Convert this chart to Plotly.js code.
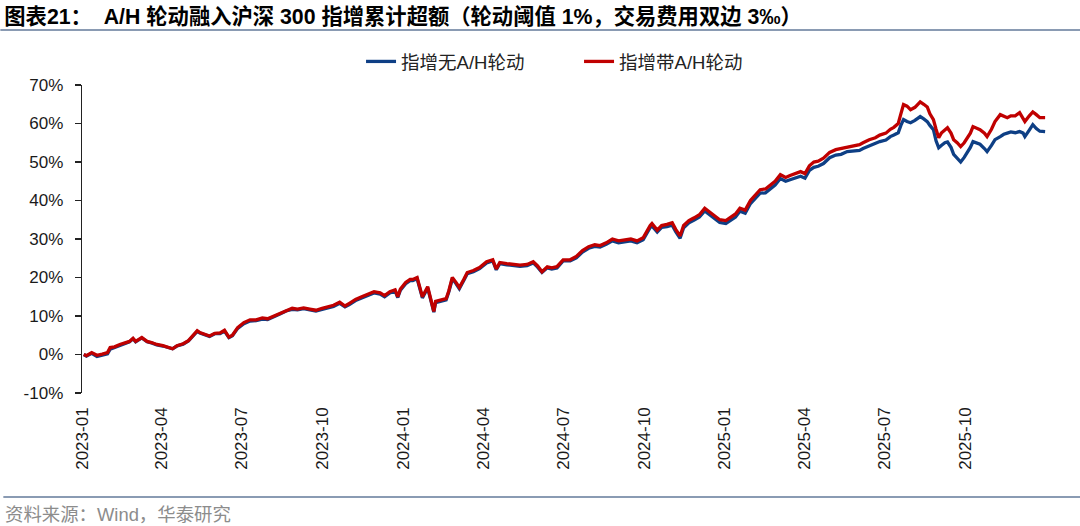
<!DOCTYPE html>
<html>
<head>
<meta charset="utf-8">
<script src="https://cdn.plot.ly/plotly-3.0.1.min.js"></script>
<style>
html,body{margin:0;padding:0;background:#fff;}
#chart{width:1080px;height:526px;}
</style>
</head>
<body>
<div id="chart"></div>
<script>
const dates = [
"2023-01-03","2023-01-06","2023-01-12","2023-01-18","2023-01-24","2023-01-30","2023-02-02","2023-02-07","2023-02-13","2023-02-19",
"2023-02-24","2023-02-28","2023-03-03","2023-03-10","2023-03-16","2023-03-21","2023-03-27","2023-04-03","2023-04-11","2023-04-14",
"2023-04-19","2023-04-26","2023-05-02","2023-05-06","2023-05-12","2023-05-15","2023-05-21","2023-05-26","2023-06-01","2023-06-07",
"2023-06-12","2023-06-17","2023-06-21","2023-06-27","2023-07-04","2023-07-11","2023-07-18","2023-07-25","2023-07-31","2023-08-07",
"2023-08-14","2023-08-21","2023-08-28","2023-09-03","2023-09-10","2023-09-17","2023-09-24","2023-10-01","2023-10-07","2023-10-14",
"2023-10-21","2023-10-27","2023-11-01","2023-11-08","2023-11-15","2023-11-22","2023-11-29","2023-12-06","2023-12-11","2023-12-17",
"2023-12-23","2023-12-26","2023-12-29","2024-01-04","2024-01-09","2024-01-12","2024-01-17","2024-01-20","2024-01-23","2024-01-29",
"2024-02-02","2024-02-05","2024-02-07","2024-02-13","2024-02-19","2024-02-22","2024-02-26","2024-03-01","2024-03-05","2024-03-10",
"2024-03-14","2024-03-21","2024-03-28","2024-04-05","2024-04-12","2024-04-16","2024-04-20","2024-04-28","2024-05-05","2024-05-13",
"2024-05-21","2024-05-28","2024-06-02","2024-06-07","2024-06-13","2024-06-18","2024-06-24","2024-07-01","2024-07-09","2024-07-16",
"2024-07-23","2024-07-30","2024-08-06","2024-08-12","2024-08-19","2024-08-26","2024-09-02","2024-09-09","2024-09-16","2024-09-23",
"2024-09-30","2024-10-08","2024-10-10","2024-10-16","2024-10-21","2024-10-27","2024-11-02","2024-11-06","2024-11-11","2024-11-15",
"2024-11-21","2024-11-27","2024-12-03","2024-12-09","2024-12-15","2024-12-20","2024-12-26","2025-01-02","2025-01-07","2025-01-13",
"2025-01-18","2025-01-24","2025-01-30","2025-02-05","2025-02-10","2025-02-16","2025-02-22","2025-02-27","2025-03-05","2025-03-11",
"2025-03-16","2025-03-22","2025-03-28","2025-04-02","2025-04-07","2025-04-12","2025-04-17","2025-04-23","2025-04-30","2025-05-07",
"2025-05-13","2025-05-20","2025-05-27","2025-06-03","2025-06-07","2025-06-14","2025-06-21","2025-06-26","2025-07-03","2025-07-08",
"2025-07-12","2025-07-17","2025-07-20","2025-07-23","2025-07-27","2025-07-31","2025-08-05","2025-08-11","2025-08-15","2025-08-19",
"2025-08-22","2025-08-26","2025-08-29","2025-09-01","2025-09-04","2025-09-08","2025-09-11","2025-09-15","2025-09-18","2025-09-22",
"2025-09-26","2025-09-30","2025-10-04","2025-10-07","2025-10-10","2025-10-15","2025-10-18","2025-10-23","2025-10-26","2025-10-31",
"2025-11-04","2025-11-10","2025-11-14","2025-11-18","2025-11-22","2025-11-27","2025-12-02","2025-12-06","2025-12-08","2025-12-13",
"2025-12-17","2025-12-21","2025-12-25","2025-12-31"
];

// 指增带A/H轮动 (%)
const withRotation = [
0.0,-0.3,0.5,-0.2,0.1,0.5,1.8,2.0,2.6,3.1,
3.4,4.2,3.4,4.4,3.4,3.1,2.6,2.3,1.8,1.5,
2.3,2.8,3.6,4.7,6.2,5.7,5.3,4.8,5.5,5.6,
6.3,4.5,5.0,7.0,8.3,9.0,9.0,9.5,9.3,10.0,
10.8,11.5,12.0,11.8,12.1,11.8,11.5,12.0,12.3,12.8,
13.6,12.6,13.3,14.3,15.0,15.6,16.3,16.0,15.3,16.3,
16.8,15.0,17.0,18.7,19.5,19.5,20.0,17.5,15.0,17.6,
13.5,11.2,13.8,14.2,14.5,16.5,20.0,18.8,17.4,19.5,
21.3,21.8,22.6,24.1,24.6,22.2,23.9,23.6,23.4,23.2,
23.4,24.1,23.0,21.5,22.8,22.5,22.8,24.6,24.6,25.5,
27.0,28.0,28.5,28.3,29.0,30.0,29.5,29.8,30.0,29.5,
30.3,33.5,34.0,32.3,33.5,33.8,34.2,32.5,30.8,33.5,
34.8,35.5,36.3,38.0,37.0,36.0,35.0,34.8,35.5,36.5,
38.0,37.5,40.0,41.5,42.8,43.0,44.0,45.0,46.7,46.0,
46.5,47.0,47.5,47.0,49.0,50.0,50.2,51.0,52.5,53.2,
53.5,54.0,54.2,54.5,55.0,55.8,56.3,57.0,57.5,58.5,
59.0,60.0,62.5,64.9,64.5,63.6,64.2,65.6,65.0,64.3,
62.5,61.0,58.5,56.3,57.5,58.4,58.9,57.5,55.8,55.0,
54.0,55.0,56.3,57.5,59.2,58.6,58.4,57.5,56.6,58.5,
60.5,62.3,61.8,61.5,62.0,62.0,62.8,61.5,60.5,62.0,
63.0,62.3,61.5,61.5
];

// 指增无A/H轮动 (%)
const withoutRotation = [
0.0,-0.4,0.3,-0.5,-0.2,0.2,1.4,1.8,2.4,2.9,
3.3,4.1,3.3,4.3,3.3,3.0,2.5,2.2,1.7,1.5,
2.2,2.7,3.5,4.6,6.0,5.6,5.2,4.7,5.4,5.4,
6.1,4.4,4.9,6.8,8.0,8.7,8.8,9.2,9.1,9.7,
10.5,11.3,11.7,11.6,11.9,11.6,11.3,11.7,12.0,12.5,
13.3,12.4,13.0,14.0,14.7,15.3,16.0,15.7,15.0,16.0,
16.5,14.8,16.7,18.4,19.2,19.2,19.7,17.2,14.7,17.3,
13.2,11.0,13.5,13.9,14.2,16.2,19.6,18.5,17.1,19.2,
21.0,21.5,22.3,23.8,24.3,22.0,23.6,23.3,23.1,22.9,
23.1,23.8,22.7,21.3,22.5,22.2,22.5,24.3,24.3,25.1,
26.6,27.6,28.1,27.9,28.6,29.5,29.0,29.3,29.5,29.0,
29.8,33.0,33.4,31.8,33.0,33.2,33.6,31.9,30.2,32.9,
34.2,34.9,35.7,37.3,36.3,35.3,34.3,34.0,34.7,35.7,
37.2,36.7,39.2,40.6,41.9,42.0,43.0,44.0,45.7,45.0,
45.4,45.9,46.3,45.8,47.8,48.6,48.9,49.6,51.1,51.8,
52.0,52.7,52.8,53.0,53.5,54.2,54.7,55.3,55.7,56.6,
57.0,57.6,59.5,61.0,60.5,60.2,60.8,61.8,61.2,60.5,
59.5,58.4,55.5,53.7,54.3,55.0,55.2,53.8,52.0,51.0,
50.0,51.2,52.5,53.8,55.3,54.8,54.6,53.5,52.7,54.3,
55.8,56.6,57.2,57.5,57.8,57.6,57.9,57.5,56.6,58.3,
59.7,58.7,58.0,57.9
];

const tickDates = ["2023-01-01","2023-04-01","2023-07-01","2023-10-01","2024-01-01","2024-04-01","2024-07-01","2024-10-01","2025-01-01","2025-04-01","2025-07-01","2025-10-01","2026-01-01"];
const tickLabels = ["2023-01","2023-04","2023-07","2023-10","2024-01","2024-04","2024-07","2024-10","2025-01","2025-04","2025-07","2025-10",""];
const yTickVals = [-10, 0, 10, 20, 30, 40, 50, 60, 70];
const yTickLabels = ["-10%","0%","10%","20%","30%","40%","50%","60%","70%"];

const seriesNames = ["指增无A/H轮动","指增带A/H轮动"];
const seriesColors = ["#0E3F85","#C00000"];

const FONT = "Liberation Sans, Arial, Noto Sans CJK SC, sans-serif";
const xRange = ["2023-01-01","2026-01-01"];

const traces = [
  {x: dates, y: withoutRotation, name: seriesNames[0], type: "scatter", mode: "lines",
   line: {color: seriesColors[0], width: 3.3}},
  {x: dates, y: withRotation, name: seriesNames[1], type: "scatter", mode: "lines",
   line: {color: seriesColors[1], width: 3.3}}
];

const layout = {
  width: 1080, height: 526,
  margin: {l: 82, r: 34, t: 85, b: 133, pad: 0, autoexpand: false},
  paper_bgcolor: "#fff", plot_bgcolor: "#fff",
  font: {family: FONT, size: 17, color: "#1a1a1a"},
  title: {
    text: "<b>图表21：  A/H 轮动融入沪深 300 指增累计超额（轮动阈值 1%，交易费用双边 3‰）</b>",
    font: {family: FONT, size: 21.3, color: "#000"},
    x: 0.004, xref: "container", xanchor: "left",
    y: 0.968, yref: "container", yanchor: "middle",
    automargin: false
  },
  showlegend: true,
  legend: {
    orientation: "h", x: 0.5156, xanchor: "center", xref: "paper",
    y: 1.075, yanchor: "middle", yref: "paper",
    font: {family: FONT, size: 18.5, color: "#222"},
    entrywidth: 173, entrywidthmode: "pixels",
    bgcolor: "rgba(0,0,0,0)"
  },
  xaxis: {
    type: "date", range: xRange,
    tickmode: "array", tickvals: tickDates, ticktext: tickLabels,
    tickangle: -90, ticks: "", showline: false, showgrid: false, zeroline: false,
    ticklabelstandoff: 10,
    tickfont: {family: FONT, size: 17, color: "#1a1a1a"},
    fixedrange: true
  },
  xaxis2: {
    type: "date", range: xRange, overlaying: "x", anchor: "free", position: 0.125,
    side: "bottom",
    tickmode: "array", tickvals: tickDates,
    showticklabels: false, ticks: "outside", ticklen: 6, tickwidth: 1.3, tickcolor: "#222",
    showline: true, linecolor: "#222", linewidth: 1.3, showgrid: false, zeroline: false
  },
  yaxis: {
    range: [-10, 70], tickmode: "array", tickvals: yTickVals, ticktext: yTickLabels,
    showline: true, linecolor: "#222", linewidth: 1.3,
    ticks: "outside", ticklen: 6, tickwidth: 1.3, tickcolor: "#222",
    showgrid: false, zeroline: false,
    ticklabelstandoff: 8,
    tickfont: {family: FONT, size: 17, color: "#1a1a1a"}
  },
  shapes: [
    {type: "line", xref: "paper", yref: "paper", x0: -0.0847, x1: 1.0353, y0: 1.1786, y1: 1.1786,
     line: {color: "#8A9BB3", width: 2}},
    {type: "line", xref: "paper", yref: "paper", x0: -0.0816, x1: 1.0353, y0: -0.3377, y1: -0.3377,
     line: {color: "#8A9BB3", width: 2}}
  ],
  annotations: [
    {text: "资料来源：Wind，华泰研究", xref: "paper", yref: "paper", x: -0.0816, y: -0.393,
     xanchor: "left", yanchor: "middle", showarrow: false,
     font: {family: FONT, size: 18.4, color: "#8c8c8c"}}
  ]
};

Plotly.newPlot("chart", traces, layout, {displayModeBar: false, staticPlot: true});
</script>
</body>
</html>
